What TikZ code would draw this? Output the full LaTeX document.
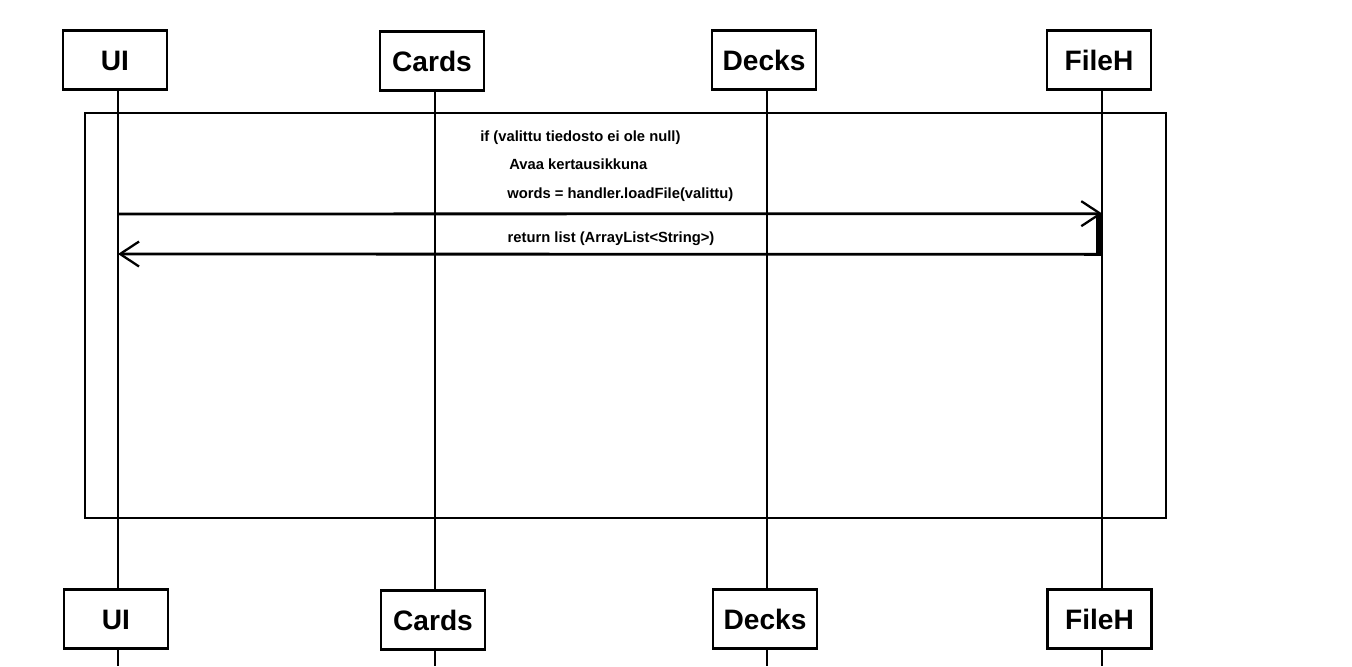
\documentclass[tikz,border=0pt]{standalone}
\usepackage{fontspec}
\setmainfont{Liberation Sans}
\usetikzlibrary{arrows.meta}
\tikzset{
  lifebox/.style={draw, line width=1.6pt, fill=white, minimum width=2.08cm, minimum height=1.18cm, text height=11.5pt, text depth=0pt, font=\fontsize{16}{18}\selectfont\bfseries},
  lifeline/.style={line width=1.6pt},
  msgtext/.style={font=\fontsize{8.4}{10}\selectfont\bfseries, inner sep=0pt},
  msg/.style={line width=1.6pt, -{Straight Barb[length=0.38cm, width=0.5cm, line width=1.3pt]}}
}
\begin{document}
\begin{tikzpicture}[x=0.02cm, y=-0.02cm]
    \useasboundingbox (0,0) rectangle (1352,666);

    % Osallistujat (ylhaalla)
    \node[lifebox] (ui) at (115,60) {UI};
    \node[lifebox] (cards) at (432,61) {Cards};
    \node[lifebox] (decks) at (764,60) {Decks};
    \node[lifebox] (fileh) at (1099,60) {FileH};

    % Osallistujat (alhaalla)
    \node[lifebox] (uiB) at (116,619) {UI};
    \node[lifebox] (cardsB) at (433,620) {Cards};
    \node[lifebox] (decksB) at (765,619) {Decks};
    \node[lifebox] (filehB) at (1099.5,619) {FileH};

    % Elamanviivat
    \draw[lifeline] (ui.south -| 118,0) -- (uiB.north -| 118,0);
    \draw[lifeline] (cards.south -| 435,0) -- (cardsB.north -| 435,0);
    \draw[lifeline] (decks.south -| 767,0) -- (decksB.north -| 767,0);
    \draw[lifeline] (fileh.south -| 1102,0) -- (filehB.north -| 1102,0);
    \coordinate (uiE) at (118,666);
    \coordinate (cardsE) at (435,666);
    \coordinate (decksE) at (767,666);
    \coordinate (filehE) at (1102,666);
    \draw[lifeline] (uiB.south -| uiE) -- (uiE);
    \draw[lifeline] (cardsB.south -| cardsE) -- (cardsE);
    \draw[lifeline] (decksB.south -| decksE) -- (decksE);
    \draw[lifeline] (filehB.south -| filehE) -- (filehE);

    % Kehys (if)
    \draw[line width=1.6pt] (85,113) rectangle (1166,518);
    \node[msgtext, anchor=west] (cond) at (480,138) {if (valittu tiedosto ei ole null)};
    \node[msgtext, anchor=west] (avaa) at (509,164) {Avaa kertausikkuna};

    % Aktivaatio
    \node[fill=black, inner sep=0pt, minimum width=0.12cm, minimum height=0.8cm] (act) at (1099,234) {};

    % Viestit
    \coordinate (callS) at (118,214);
    \coordinate (retE) at (118,254);
    \node[msgtext, anchor=west] (callT) at (507,195) {words = handler.loadFile(valittu)};
    \draw[msg] (callS) -- (act.north east);
    \node[msgtext] (retT) at (611,239) {return list (ArrayList<String>)};
    \draw[msg] (act.south east) -- (retE);
\end{tikzpicture}
\end{document}
